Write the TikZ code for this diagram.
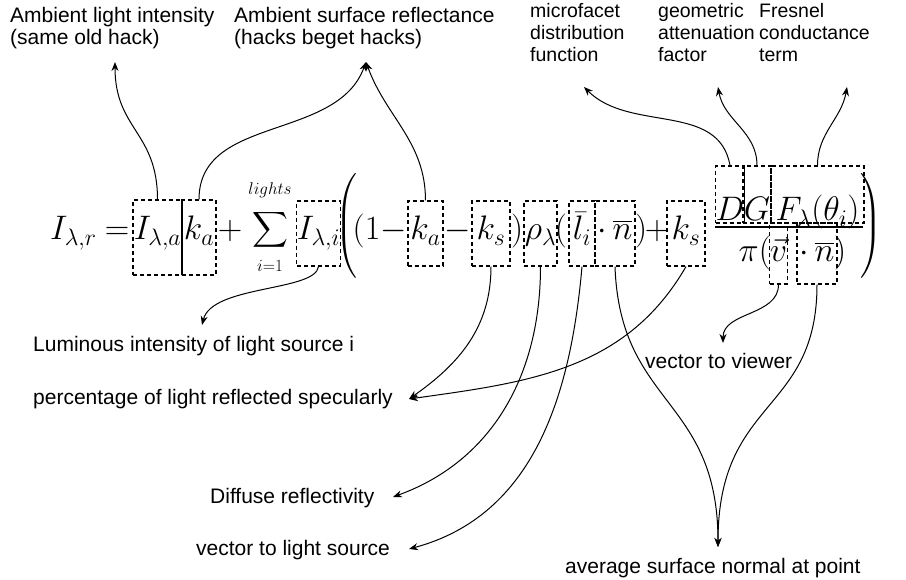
\RequirePackage{fix-cm}
\documentclass[tikz,border=0pt]{standalone}
\usepackage{amsmath}
\usepackage{fontspec}
\usepackage{tikz}
\usetikzlibrary{arrows.meta}
\newfontfamily\lblfont{Liberation Sans}
\newcommand\eqsize{\fontsize{34}{40}\selectfont}
\newcommand\limsize{\fontsize{17}{20}\selectfont}
\newcommand\lblsize{\fontsize{21}{22}\selectfont}
\newcommand\toplblsize{\fontsize{19.5}{22}\selectfont}

\begin{document}
\begin{tikzpicture}[x=1pt, y=1pt, >={Stealth[length=9pt,width=7pt]},
  eq/.style={font=\eqsize, inner sep=0pt, anchor=base},
  term/.style={eq, draw, line width=1.1pt, dash pattern=on 4pt off 3pt,
    text height=39pt, text depth=26pt},
  tall/.style={text height=40pt, text depth=35pt},
  numer/.style={text height=55pt, text depth=2pt},
  denom/.style={text height=39pt, text depth=22pt},
  lbl/.style={font=\lblsize\lblfont, inner sep=0pt, align=left},
  toplbl/.style={lbl, font=\toplblsize\lblfont, anchor=north west},
  con/.style={->, line width=1pt}]
  \useasboundingbox (0,0) rectangle (906,-580);

  % the equation, piece by piece
  \node[eq, anchor=base west] (lhs) at (50,-240) {$I_{\lambda,r}$};
  \node[eq] (eqs) at (117,-240) {$=$};
  \node[term, tall, minimum width=49pt] (Ia) at (157.5,-240) {$I_{\lambda,a}$};
  \node[term, tall, minimum width=34pt] (ka) at (199,-240) {$k_a$};
  \draw[line width=1.1pt] (Ia.north east) -- (Ia.south east);
  \node[eq] (plus1) at (230,-240) {$+$};
  \node[eq] (sum) at (270,-238) {$\displaystyle\smash{\sum}$};
  \node[font=\limsize, inner sep=0pt] (sumtop) at (270,-190) {$lights$};
  \node[font=\limsize, inner sep=0pt] (sumbot) at (270,-266) {$i{=}1$};
  \node[term, minimum width=43pt] (Ii) at (318.5,-240) {$I_{\lambda,i}$};
  \node[eq, anchor=center] (lbig) at (347,-227) {$\left(\vrule height 46pt depth 46pt width 0pt\right.$};
  \node[eq, anchor=base east] (open1) at (407,-240) {$(1-$};
  \node[term, minimum width=35pt] (ka2) at (425.5,-240) {$k_a$};
  \node[eq] (minus) at (457.5,-240) {$-$};
  \node[term, minimum width=38pt] (ks) at (491,-240) {$k_s$};
  \node[eq, anchor=base west] (close1) at (511,-240) {$)$};
  \node[term, minimum width=33pt] (rho) at (540.5,-240) {$\rho_\lambda$};
  \node[eq, anchor=base east] (open2) at (567,-240) {$($};
  \node[term, minimum width=26pt] (li) at (582,-240) {$\bar{l}_i$};
  \node[term, minimum width=40pt] (nb) at (615,-240) {$\cdot\,\overline{n}$};
  \node[eq, anchor=base west] (close2) at (635,-240) {$)$};
  \node[eq] (plus2) at (657,-240) {$+$};
  \node[term, minimum width=38pt] (ks2) at (686,-240) {$k_s$};

  % specular fraction
  \node[term, numer, minimum width=26pt] (D) at (730,-221) {$D$};
  \node[term, numer, minimum width=28pt] (G) at (757,-221) {$G$};
  \node[term, numer, minimum width=93pt] (F) at (817.5,-221) {$F_\lambda(\theta_i)$};
  \draw[line width=1.1pt] (D.north east) -- (D.south east);
  \draw[line width=1.4pt] (715,-227) -- (863,-227);
  \node[eq, anchor=base east] (pi) at (771,-262) {$\pi($};
  \node[term, denom, minimum width=15pt] (v) at (778.5,-262) {$\vec{v}$};
  \node[term, denom, minimum width=40pt] (n2) at (817,-262) {$\cdot\,\overline{n}$};
  \node[eq, anchor=base west] (close3) at (834,-262) {$)$};
  \node[eq, anchor=center] (rbig) at (871,-227) {$\left.\vrule height 46pt depth 46pt width 0pt\right)$};

  % labels on top
  \node[lbl, anchor=north west] (lAmbLight) at (10,-7.5) {Ambient light intensity\\(same old hack)};
  \node[lbl, anchor=north west] (lAmbRefl) at (234,-7.5) {Ambient surface reflectance\\(hacks beget hacks)};
  \node[toplbl] (lMicro) at (530,-3.5) {microfacet\\distribution\\function};
  \node[toplbl] (lGeom) at (658,-3.5) {geometric\\attenuation\\factor};
  \node[toplbl] (lFresnel) at (759,-3.5) {Fresnel\\conductance\\term};
  \coordinate (tAmbLight) at (115,-62);
  \coordinate (tAmbRefl) at (366,-62);
  \coordinate (tMicro) at (584,-87);
  \coordinate (tGeom) at (718,-87);
  \coordinate (tFresnel) at (847,-87);

  % labels below
  \node[lbl, anchor=base west] (lLumin) at (33,-352) {Luminous intensity of light source i};
  \node[lbl, anchor=base west] (lPerc) at (33,-405) {percentage of light reflected specularly};
  \node[lbl, anchor=base west] (lDiff) at (210,-503) {Diffuse reflectivity};
  \node[lbl, anchor=base west] (lVecL) at (196,-555) {vector to light source};
  \node[lbl, anchor=base west] (lView) at (645,-369) {vector to viewer};
  \node[lbl, anchor=base west] (lAvg) at (565,-573) {average surface normal at point};
  \coordinate (tLumin) at (202,-325);
  \coordinate (tPerc) at (409,-399);
  \coordinate (tDiff) at (393,-497);
  \coordinate (tVecL) at (409,-549);
  \coordinate (tView) at (723,-343);
  \coordinate (tAvg) at (718,-547);

  % connectors
  \draw[con] (Ia.north) to[out=90, in=-90, looseness=1.2] (tAmbLight);
  \draw[con] (ka.north) to[out=90, in=-110] (tAmbRefl);
  \draw[con] (ka2.north) to[out=90, in=-70] (tAmbRefl);
  \draw[con] (D.north) to[out=100, in=-45] (tMicro);
  \draw[con] (G.north) to[out=90, in=-80] (tGeom);
  \draw[con] (F.north) to[out=90, in=-100] (tFresnel);
  \draw[con] (Ii.south) .. controls +(-3,-25) and +(10,40) .. (tLumin);
  \draw[con] (ks.south) to[out=-90, in=35] (tPerc);
  \draw[con] (ks2.south) to[out=-120, in=8] (tPerc);
  \draw[con] (rho.south) to[out=-90, in=20] (tDiff);
  \draw[con] (li.south) to[out=-95, in=15] (tVecL);
  \draw[con] (v.south) to[out=-90, in=90] (tView);
  \draw[con] (nb.south) .. controls +(5,-140) and +(0,150) .. (tAvg);
  \draw[con] (n2.south) .. controls +(0,-130) and +(0,150) .. (tAvg);
\end{tikzpicture}
\end{document}
